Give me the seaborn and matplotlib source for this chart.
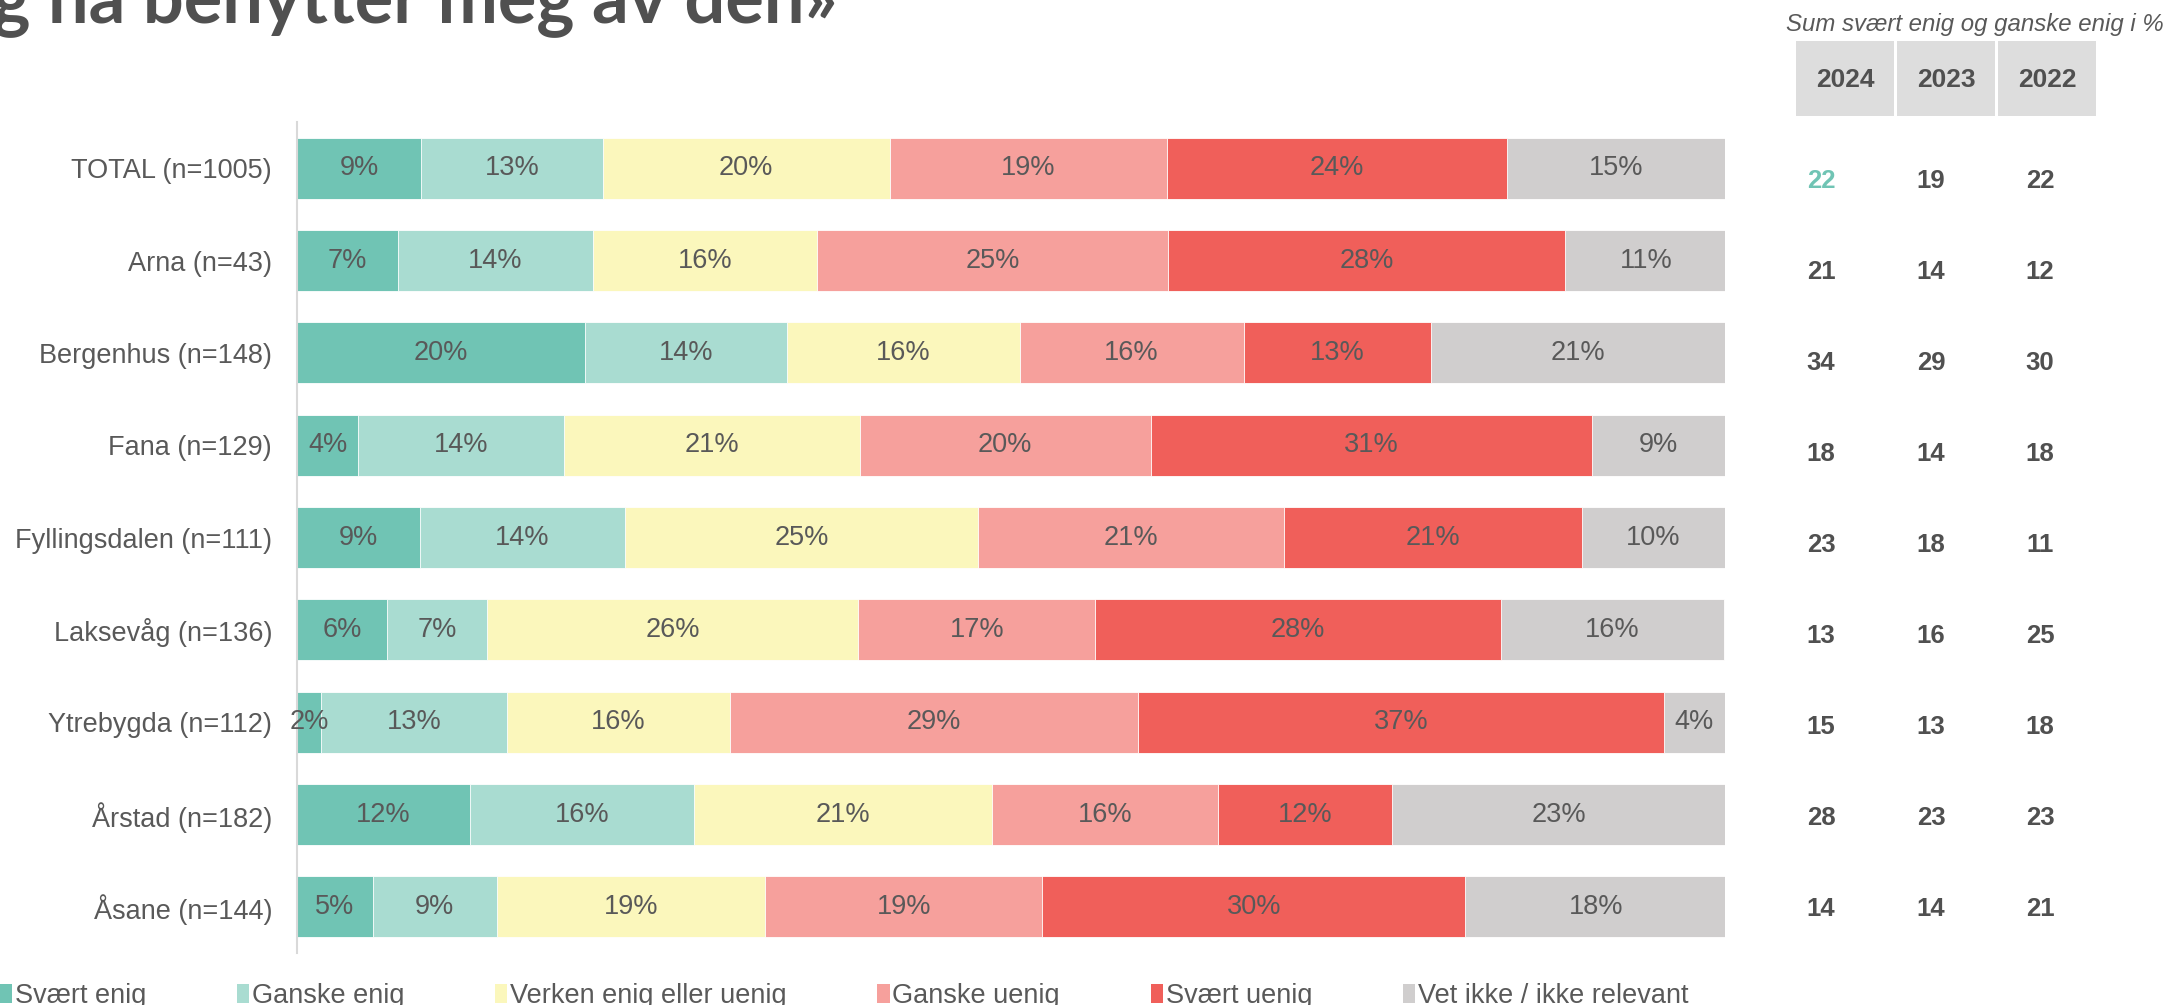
import numpy as np
import matplotlib
matplotlib.use("Agg")
import matplotlib.pyplot as plt
from matplotlib.patches import Patch, Rectangle
import seaborn as sns

# categories (top to bottom)
areas = ["TOTAL (n=1005)", "Arna (n=43)", "Bergenhus (n=148)", "Fana (n=129)",
         "Fyllingsdalen (n=111)", "Laksevåg (n=136)", "Ytrebygda (n=112)",
         "Årstad (n=182)", "Åsane (n=144)"]

answers = ["Svært enig", "Ganske enig", "Verken enig eller uenig",
           "Ganske uenig", "Svært uenig", "Vet ikke / ikke relevant"]

# shares in % per answer, one value per area
svaert_enig = [8.7, 7.1, 20.2, 4.3, 8.6, 6.3, 1.7, 12.1, 5.3]
ganske_enig = [12.7, 13.6, 14.1, 14.4, 14.4, 7.0, 13.0, 15.7, 8.7]
verken = [20.1, 15.7, 16.3, 20.7, 24.7, 26.0, 15.6, 20.9, 18.8]
ganske_uenig = [19.4, 24.6, 15.7, 20.4, 21.4, 16.6, 28.6, 15.8, 19.4]
svaert_uenig = [23.8, 27.8, 13.1, 30.9, 20.9, 28.4, 36.8, 12.2, 29.6]
vet_ikke = [15.3, 11.4, 20.6, 9.3, 10.0, 15.6, 4.3, 23.4, 18.3]

# sum enig, by year
years = ["2024", "2023", "2022"]
sum_2024 = [22, 21, 34, 18, 23, 13, 15, 28, 14]
sum_2023 = [19, 14, 29, 14, 18, 16, 13, 23, 14]
sum_2022 = [22, 12, 30, 18, 11, 25, 18, 23, 21]

colors = ["#70C4B4", "#A9DCD1", "#FBF7BC", "#F6A09C", "#F05F5A", "#D0CECE"]
text_col = "#595959"
dark = "#505050"

sns.set_style("white")
plt.rcParams["font.family"] = ["Liberation Sans", "DejaVu Sans"]

fig = plt.figure(figsize=(21.66, 10.05), dpi=100)
W, H = 2166, 1005
ax = fig.add_axes([297 / W, 1 - 953 / H, (1725 - 297) / W, (953 - 122) / H])

series = np.array([svaert_enig, ganske_enig, verken, ganske_uenig, svaert_uenig, vet_ikke])
cum = np.cumsum(series, axis=0)

# stacked bars: draw cumulative totals from the outside in
for k in range(len(answers) - 1, -1, -1):
    sns.barplot(x=cum[k], y=areas, orient="h", color=colors[k], saturation=1,
                width=0.66, edgecolor="white", linewidth=0.6, ax=ax)

# percentage labels in the middle of each segment
for k in range(len(answers)):
    starts = cum[k] - series[k]
    for i, v in enumerate(series[k]):
        ax.text(starts[i] + v / 2, i, f"{v:.0f}%", ha="center", va="center",
                fontsize=19.5, color=text_col)

ax.set_xlim(0, 100)
ax.set_ylim(8.5, -0.5)
ax.set_xlabel("")
ax.set_ylabel("")
ax.set_xticks([])
ax.tick_params(axis="y", length=0, pad=18, labelsize=19.5, labelcolor=text_col)
for s in ["top", "right", "bottom"]:
    ax.spines[s].set_visible(False)
ax.spines["left"].set_color("#D9D9D9")
ax.spines["left"].set_linewidth(1.5)

# title (cut off at the top of the slide)
fig.text(837 / W, 1 - 22 / H, "og nå benytter meg av den»", ha="right", va="baseline",
         fontsize=52, fontweight="bold", color=dark, family=["Lato", "DejaVu Sans"])

# side table
fig.text(1786 / W, 1 - 25 / H, "Sum svært enig og ganske enig i %", ha="left", va="center",
         fontsize=17.3, style="italic", color=text_col)
box_x = [1796, 1897, 1998]
for bx, yr in zip(box_x, years):
    fig.patches.append(Rectangle((bx / W, 1 - 116 / H), 98 / W, 75 / H,
                                 transform=fig.transFigure, facecolor="#DDDDDD",
                                 edgecolor="none"))
    fig.text((bx + 49) / W, 1 - 80 / H, yr, ha="center", va="center", fontsize=19,
             fontweight="bold", color=dark)

col_x = [1821, 1931, 2040]
row_y = np.linspace(181, 909, len(areas))
for cx, vals in zip(col_x, [sum_2024, sum_2023, sum_2022]):
    for i, v in enumerate(vals):
        c = colors[0] if (cx == col_x[0] and i == 0) else dark
        fig.text(cx / W, 1 - row_y[i] / H, str(v), ha="center", va="center",
                 fontsize=18.5, fontweight="bold", color=c)

# legend along the bottom
handles = [Patch(facecolor=c, edgecolor="none") for c in colors]
fig.legend(handles, answers, loc="center left", bbox_to_anchor=(0, 1 - 996 / H),
           ncol=6, frameon=False, fontsize=19.5, handlelength=0.45, handleheight=0.7,
           handletextpad=0.1, columnspacing=3.35, borderpad=0, borderaxespad=0,
           labelcolor=text_col)

fig.savefig("out.png", dpi=100)
